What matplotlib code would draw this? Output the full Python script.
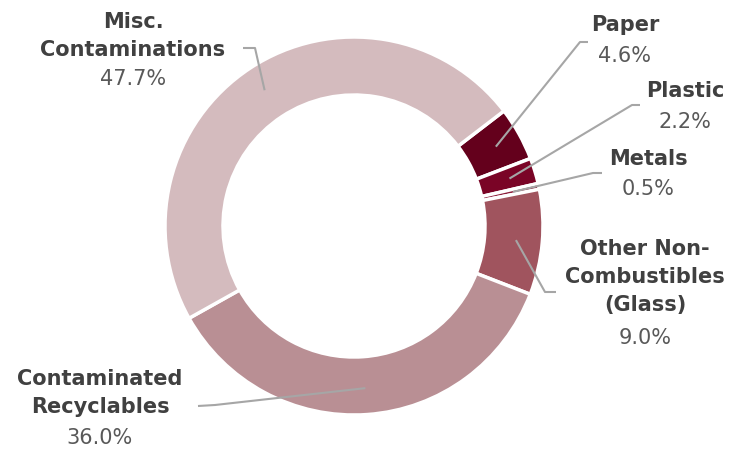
import numpy as np
import matplotlib
matplotlib.use("Agg")
import matplotlib.pyplot as plt

# waste composition shares (%), clockwise from the top right
names = ["Paper", "Plastic", "Metals", "Other Non-\nCombustibles\n(Glass)",
         "Contaminated\nRecyclables", "Misc.\nContaminations"]
shares = [4.6, 2.2, 0.5, 9.0, 36.0, 47.7]
colors = ["#64001c", "#7a0426", "#8c1c3a", "#a0545e", "#b98f94", "#d4bbbe"]

W, H = 737, 450


def px(x, y):
    # pixel coords (origin top-left) -> data coords
    return x, H - y


fig = plt.figure(figsize=(W / 100, H / 100), dpi=100)
ax = fig.add_axes([0, 0, 1, 1])

cx, cy = px(354, 226)
R = 189
wedges, _ = ax.pie(shares, colors=colors, startangle=37.5, counterclock=False,
                   radius=R, center=(cx, cy),
                   wedgeprops=dict(width=58, edgecolor="white", linewidth=2.5))
ax.set_xlim(0, W)
ax.set_ylim(0, H)
ax.set_aspect("equal")
ax.axis("off")

# leader elbows / ends, label x, name block centre y, percent centre y
elbows = [(580, 42), (632, 105), (593, 173), (545, 292), (215, 405), (255, 48)]
ends = [(588, 42), (640, 105), (602, 173), (556, 292), (198, 406), (243, 48)]
label_x = [625, 685, 648, 645, 100, 133]
name_y = [25, 91, 159, 277, 393, 36]
pct_y = [56, 122, 189, 338, 438, 79]

line_c = "#a6a6a6"
for i, w in enumerate(wedges):
    mid = np.deg2rad((w.theta1 + w.theta2) / 2)
    sx = cx + 0.86 * R * np.cos(mid)
    sy = cy + 0.86 * R * np.sin(mid)
    ex, ey = px(*elbows[i])
    nx, ny = px(*ends[i])
    ax.plot([sx, ex, nx], [sy, ey, ny], color=line_c, lw=1.5,
            solid_capstyle="butt", zorder=3)
    ax.text(label_x[i], H - name_y[i], names[i], ha="center", va="center",
            fontsize=15, fontweight="bold", color="#404040", linespacing=1.5,
            family="DejaVu Sans")
    ax.text(label_x[i], H - pct_y[i], f"{shares[i]:.1f}%", ha="center",
            va="center", fontsize=15, color="#595959", family="DejaVu Sans")

fig.savefig("out.png", dpi=100)
